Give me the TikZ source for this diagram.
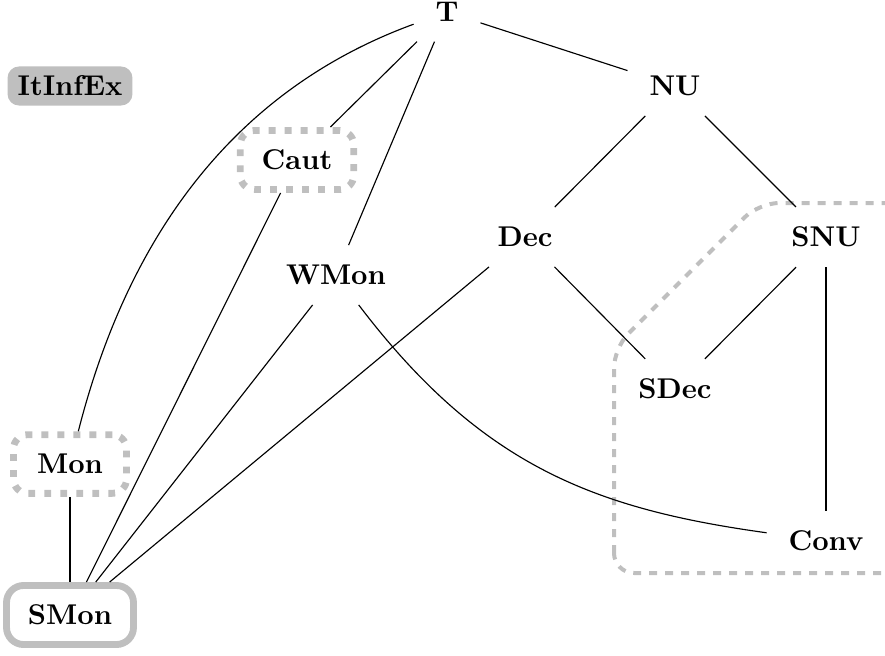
\documentclass[tikz,border=0pt]{standalone}
\begin{document}
\begin{tikzpicture}[x=0.35pt,y=-0.35pt,
  every node/.style={font=\bfseries, inner xsep=7.5pt, inner ysep=6.8pt},
  conn/.style={draw=black, line width=0.4pt},
  dotbox/.style={draw=black!25, line width=2.4pt, rounded corners=5pt, dash pattern=on 2.4pt off 3.2pt, minimum width=39.6pt},
  solidbox/.style={draw=black!25, line width=2.4pt, rounded corners=6pt, minimum width=39.6pt},
  fillbox/.style={fill=black!25, rounded corners=4pt, inner xsep=3.5pt, inner ysep=3.3pt},
  region/.style={draw=black!25, line width=1.4pt, dash pattern=on 2.8pt off 2.8pt, rounded corners=7pt}]
\useasboundingbox (0,0) rectangle (885,655);
% dashed region
\draw[region] (614,573) -- (614,348) -- (759,203) -- (905,203) -- (905,573) -- cycle;
% nodes
\node (T) at (447,12) {T};
\node (NU) at (675,86) {NU};
\node (Dec) at (525,237) {Dec};
\node (SNU) at (826,237) {SNU};
\node (SDec) at (675,389) {SDec};
\node (WMon) at (336,275) {WMon};
\node (Conv) at (826,541) {Conv};
\node[dotbox] (Caut) at (297,160) {Caut};
\node[dotbox] (Mon) at (70,464) {Mon};
\node[solidbox] (SMon) at (70,615) {SMon};
\node[fillbox] (ItInfEx) at (70,86) {ItInfEx};
% connectors
\draw[conn] (T) -- (NU);
\draw[conn] (T) -- (Caut);
\draw[conn] (T) -- (WMon);
\draw[conn] (T) .. controls (231,91) and (127,240) .. (Mon);
\draw[conn] (NU) -- (Dec);
\draw[conn] (NU) -- (SNU);
\draw[conn] (Dec) -- (SDec);
\draw[conn] (SNU) -- (SDec);
\draw[conn] (SNU) -- (Conv);
\draw[conn] (WMon) .. controls (481,466) and (595,509) .. (Conv);
\draw[conn] (Mon) -- (SMon);
\draw[conn] (Caut) -- (SMon);
\draw[conn] (WMon) -- (SMon);
\draw[conn] (Dec) -- (SMon);
\end{tikzpicture}
\end{document}
